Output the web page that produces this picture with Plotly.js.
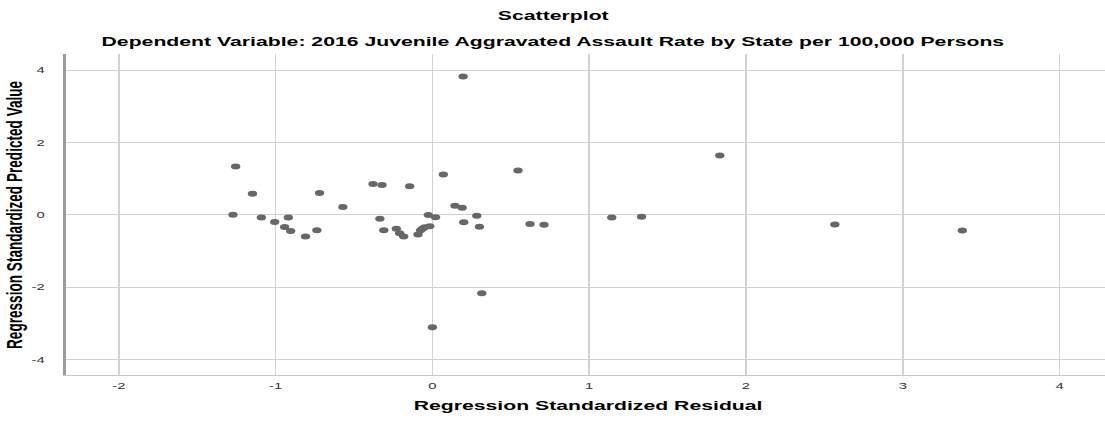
<!DOCTYPE html>
<html>
<head>
<meta charset="utf-8">
<script src="https://cdn.plot.ly/plotly-3.0.1.min.js"></script>
<style>
  html, body { margin: 0; padding: 0; background: #ffffff; overflow: hidden; }
  #wrap { width: 1105px; height: 423px; overflow: hidden; position: relative; }
  #plot { width: 708px; height: 423px; transform: scaleX(1.5607); transform-origin: 0 0; }
</style>
</head>
<body>
<div id="wrap"><div id="plot"></div></div>
<script>
// Regression standardized residual (x) vs standardized predicted value (y)
const residual = [
  -1.255, -1.148, -1.272, -1.091, -1.006, -0.919, -0.943, -0.904, -0.809, -0.720,
  -0.737, -0.571, -0.379, -0.321, -0.145, 0.070, 0.546, -0.335, -0.310, -0.230,
  -0.209, -0.183, -0.092, -0.075, -0.049, -0.017, -0.026, 0.020, 0.144, 0.190,
  0.200, 0.283, 0.300, 0.623, 0.712, 0.196, 0.315, 0.000, 1.144, 1.334,
  1.833, 2.567, 3.380, -0.062
];
const predicted = [
  1.33, 0.58, 0.00, -0.08, -0.20, -0.08, -0.34, -0.45, -0.60, 0.60,
  -0.43, 0.21, 0.85, 0.82, 0.79, 1.11, 1.22, -0.11, -0.43, -0.39,
  -0.51, -0.60, -0.55, -0.43, -0.35, -0.32, -0.01, -0.07, 0.25, 0.19,
  -0.21, -0.03, -0.33, -0.26, -0.28, 3.82, -2.17, -3.11, -0.08, -0.06,
  1.64, -0.27, -0.44, -0.38
];
const xTicks = [-2, -1, 0, 1, 2, 3, 4];
const yTicks = [-4, -2, 0, 2, 4];
const chartTitle = "Scatterplot";
const subTitle = "Dependent Variable: 2016 Juvenile Aggravated Assault Rate by State per 100,000 Persons";
const xTitle = "Regression Standardized Residual";
const yTitle = "Regression Standardized Predicted Value";

const fontFam = "Liberation Sans, Arial, sans-serif";
const titleFont = { family: fontFam, size: 13.6, color: "#000000", weight: "bold" };

const trace = {
  x: residual,
  y: predicted,
  type: "scatter",
  mode: "markers",
  marker: { color: "#676767", size: 6, line: { width: 0 } },
  hoverinfo: "skip"
};

const layout = {
  width: 708,
  height: 423,
  margin: { l: 42.3, r: 0, t: 54, b: 48, pad: 0 },
  paper_bgcolor: "#ffffff",
  plot_bgcolor: "#ffffff",
  showlegend: false,
  xaxis: {
    range: [-2.34, 4.29],
    tickvals: xTicks,
    ticktext: xTicks.map(String),
    ticks: "",
    showgrid: true,
    gridcolor: "#d2d2d2",
    gridwidth: 1,
    zeroline: false,
    showline: true,
    linecolor: "#c8c8c8",
    linewidth: 1,
    tickfont: { family: fontFam, size: 9.5, color: "#333333" },
    ticklabelstandoff: 2
  },
  yaxis: {
    range: [-4.434, 4.445],
    tickvals: yTicks,
    ticktext: yTicks.map(String),
    ticks: "",
    showgrid: true,
    gridcolor: "#d2d2d2",
    gridwidth: 1,
    zeroline: false,
    showline: true,
    linecolor: "#9c9c9c",
    linewidth: 1.4,
    tickfont: { family: fontFam, size: 9.5, color: "#333333" },
    ticklabelstandoff: 10
  },
  annotations: [
    { text: chartTitle, xref: "paper", yref: "paper", x: 0.4685, y: (375 - 15) / 321,
      xanchor: "center", yanchor: "middle", showarrow: false, font: titleFont },
    { text: subTitle, xref: "paper", yref: "paper", x: 0.4685, y: (375 - 41) / 321,
      xanchor: "center", yanchor: "middle", showarrow: false, font: titleFont },
    { text: xTitle, xref: "paper", yref: "paper", x: 0.503, y: (375 - 406) / 321,
      xanchor: "center", yanchor: "middle", showarrow: false, font: titleFont },
    { text: yTitle, xref: "paper", yref: "paper", x: (9.8 - 42.3) / 665.7, y: 0.5,
      xanchor: "center", yanchor: "middle", textangle: -90, showarrow: false, font: titleFont }
  ]
};

Plotly.newPlot("plot", [trace], layout, { displayModeBar: false, staticPlot: true });
</script>
</body>
</html>
